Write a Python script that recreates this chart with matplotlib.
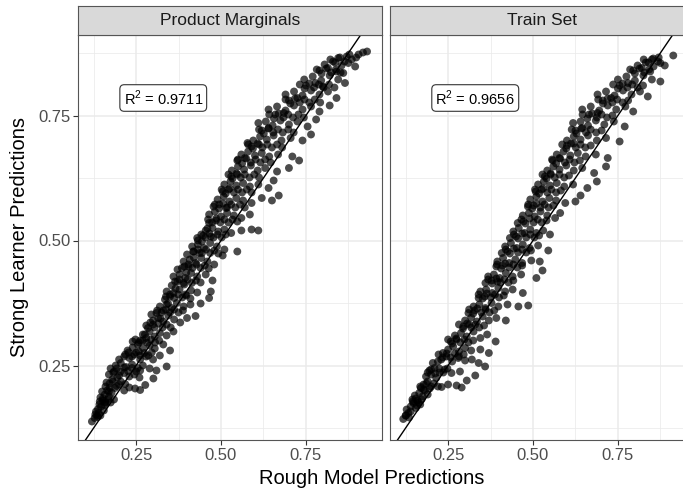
import numpy as np
import matplotlib
matplotlib.use("Agg")
import matplotlib.pyplot as plt

plt.rcParams['font.family'] = ['Liberation Sans', 'DejaVu Sans']
plt.rcParams['mathtext.fontset'] = 'custom'
plt.rcParams['mathtext.rm'] = 'Liberation Sans'

# rough model prediction vs strong learner prediction, product marginals
pm_points = np.array([
    (0.120, 0.138), (0.128, 0.145), (0.135, 0.150), (0.132, 0.158),
    (0.138, 0.163), (0.147, 0.168), (0.155, 0.160), (0.142, 0.172), (0.160, 0.175), (0.152, 0.180),
    (0.145, 0.186), (0.158, 0.192), (0.170, 0.188), (0.178, 0.196), (0.165, 0.200), (0.185, 0.182), (0.150, 0.198),
    (0.160, 0.208), (0.172, 0.214), (0.188, 0.205), (0.200, 0.212), (0.215, 0.200), (0.230, 0.206),
    (0.247, 0.204), (0.262, 0.201), (0.277, 0.211), (0.180, 0.222), (0.195, 0.226),
    (0.170, 0.232), (0.185, 0.238), (0.200, 0.230), (0.215, 0.235), (0.230, 0.228), (0.301, 0.224),
    (0.245, 0.232), (0.260, 0.226), (0.175, 0.244),
    (0.190, 0.250), (0.205, 0.255), (0.220, 0.247), (0.238, 0.252), (0.255, 0.245), (0.270, 0.250),
    (0.290, 0.244), (0.340, 0.248), (0.310, 0.240), (0.200, 0.262), (0.215, 0.268),
    (0.230, 0.265), (0.245, 0.272), (0.262, 0.262), (0.280, 0.268), (0.300, 0.262), (0.225, 0.280),
    (0.240, 0.286), (0.320, 0.270), (0.258, 0.278),
    (0.255, 0.292), (0.270, 0.285), (0.290, 0.290), (0.305, 0.284), (0.330, 0.292), (0.350, 0.280),
    (0.262, 0.300), (0.280, 0.305), (0.240, 0.298),
    (0.270, 0.312), (0.290, 0.318), (0.305, 0.308), (0.320, 0.315), (0.340, 0.310), (0.360, 0.318),
    (0.285, 0.325), (0.300, 0.332),
    (0.300, 0.340), (0.315, 0.345), (0.330, 0.338), (0.345, 0.350), (0.362, 0.342), (0.380, 0.336),
    (0.400, 0.345), (0.425, 0.349), (0.310, 0.355), (0.330, 0.360), (0.295, 0.352),
    (0.320, 0.368), (0.340, 0.372), (0.355, 0.365), (0.370, 0.375), (0.390, 0.368), (0.410, 0.372),
    (0.440, 0.374), (0.465, 0.385), (0.335, 0.382), (0.350, 0.388),
    (0.340, 0.398), (0.360, 0.395), (0.378, 0.402), (0.395, 0.392), (0.412, 0.400), (0.430, 0.396),
    (0.470, 0.398), (0.355, 0.410), (0.372, 0.418), (0.392, 0.412),
    (0.360, 0.428), (0.378, 0.432), (0.395, 0.425), (0.412, 0.435), (0.430, 0.428), (0.455, 0.432),
    (0.475, 0.420), (0.385, 0.445), (0.405, 0.448), (0.372, 0.442),
    (0.390, 0.458), (0.408, 0.462), (0.425, 0.455), (0.442, 0.465), (0.460, 0.458), (0.480, 0.452),
    (0.400, 0.472), (0.418, 0.478), (0.437, 0.475), (0.505, 0.470),
    (0.415, 0.488), (0.432, 0.492), (0.450, 0.485), (0.468, 0.495), (0.488, 0.488), (0.510, 0.482),
    (0.548, 0.478), (0.430, 0.505), (0.448, 0.510), (0.470, 0.508),
    (0.432, 0.500), (0.455, 0.520), (0.475, 0.525), (0.492, 0.518), (0.510, 0.522), (0.530, 0.515),
    (0.560, 0.520), (0.590, 0.522), (0.610, 0.520), (0.465, 0.535), (0.485, 0.540),
    (0.465, 0.552), (0.482, 0.558), (0.500, 0.548), (0.518, 0.555), (0.538, 0.550), (0.560, 0.545),
    (0.585, 0.552), (0.478, 0.568), (0.495, 0.572), (0.515, 0.565),
    (0.490, 0.582), (0.508, 0.588), (0.525, 0.578), (0.545, 0.585), (0.565, 0.580), (0.590, 0.575),
    (0.620, 0.585), (0.650, 0.580), (0.670, 0.590), (0.505, 0.598), (0.522, 0.602),
    (0.510, 0.612), (0.528, 0.618), (0.545, 0.610), (0.565, 0.615), (0.585, 0.608), (0.610, 0.612),
    (0.640, 0.605), (0.655, 0.620), (0.530, 0.628), (0.548, 0.632),
    (0.532, 0.640), (0.550, 0.648), (0.568, 0.642), (0.588, 0.650), (0.608, 0.640), (0.630, 0.645),
    (0.665, 0.638), (0.700, 0.645), (0.730, 0.660), (0.548, 0.660), (0.570, 0.665),
    (0.560, 0.672), (0.580, 0.678), (0.600, 0.670), (0.620, 0.675), (0.642, 0.668), (0.668, 0.672),
    (0.710, 0.668), (0.590, 0.688), (0.612, 0.692), (0.578, 0.695),
    (0.595, 0.700), (0.615, 0.708), (0.635, 0.702), (0.655, 0.710), (0.678, 0.700), (0.705, 0.705),
    (0.740, 0.700), (0.765, 0.712), (0.620, 0.720), (0.640, 0.725),
    (0.610, 0.735), (0.632, 0.738), (0.652, 0.730), (0.675, 0.740), (0.700, 0.732), (0.725, 0.738),
    (0.755, 0.728), (0.780, 0.742), (0.660, 0.752), (0.685, 0.755),
    (0.640, 0.762), (0.665, 0.768), (0.690, 0.760), (0.715, 0.770), (0.740, 0.762), (0.765, 0.768),
    (0.790, 0.758), (0.820, 0.770), (0.700, 0.780), (0.725, 0.785),
    (0.690, 0.792), (0.715, 0.798), (0.740, 0.790), (0.765, 0.800), (0.790, 0.792), (0.815, 0.798),
    (0.840, 0.785), (0.750, 0.810), (0.778, 0.815), (0.800, 0.808),
    (0.745, 0.822), (0.770, 0.828), (0.795, 0.820), (0.820, 0.830), (0.845, 0.822), (0.865, 0.815),
    (0.790, 0.840), (0.815, 0.845), (0.840, 0.838), (0.860, 0.835),
    (0.805, 0.852), (0.830, 0.858), (0.855, 0.850), (0.875, 0.855), (0.895, 0.848), (0.845, 0.865),
    (0.870, 0.868), (0.885, 0.862),
    (0.905, 0.872), (0.918, 0.876), (0.930, 0.878), (0.898, 0.866),
])

# the dense middle of the product marginals cloud
pm_core = np.array([
    (0.130, 0.152), (0.140, 0.155), (0.137, 0.147), (0.145, 0.150),
    (0.143, 0.178), (0.152, 0.184), (0.160, 0.177), (0.168, 0.183), (0.175, 0.176), (0.157, 0.171),
    (0.163, 0.216), (0.172, 0.205), (0.182, 0.218), (0.193, 0.209), (0.205, 0.218), (0.218, 0.213), (0.170, 0.198),
    (0.183, 0.236), (0.193, 0.244), (0.204, 0.238), (0.215, 0.246), (0.226, 0.239), (0.238, 0.245),
    (0.250, 0.238), (0.262, 0.240),
    (0.218, 0.272), (0.228, 0.276), (0.238, 0.268), (0.250, 0.276), (0.262, 0.270), (0.274, 0.275),
    (0.286, 0.270), (0.296, 0.276),
    (0.248, 0.302), (0.258, 0.296), (0.270, 0.300), (0.282, 0.296), (0.294, 0.302), (0.306, 0.296),
    (0.318, 0.300), (0.276, 0.312),
    (0.280, 0.330), (0.292, 0.336), (0.304, 0.326), (0.316, 0.334), (0.328, 0.326), (0.340, 0.332),
    (0.352, 0.326), (0.322, 0.344),
    (0.312, 0.360), (0.325, 0.356), (0.338, 0.362), (0.350, 0.356), (0.362, 0.362), (0.375, 0.356),
    (0.388, 0.360), (0.344, 0.374),
    (0.338, 0.388), (0.350, 0.392), (0.362, 0.385), (0.374, 0.392), (0.386, 0.386), (0.398, 0.390),
    (0.410, 0.384), (0.366, 0.404),
    (0.365, 0.418), (0.378, 0.422), (0.390, 0.415), (0.402, 0.422), (0.414, 0.415), (0.426, 0.420),
    (0.440, 0.416), (0.398, 0.436),
    (0.392, 0.448), (0.404, 0.452), (0.416, 0.445), (0.428, 0.452), (0.440, 0.445), (0.452, 0.450),
    (0.464, 0.444), (0.420, 0.466),
    (0.420, 0.478), (0.432, 0.482), (0.444, 0.475), (0.456, 0.482), (0.468, 0.475), (0.480, 0.480),
    (0.492, 0.474), (0.444, 0.498),
    (0.442, 0.512), (0.454, 0.506), (0.466, 0.514), (0.478, 0.506), (0.490, 0.512), (0.502, 0.506),
    (0.514, 0.512), (0.460, 0.524),
    (0.462, 0.542), (0.474, 0.536), (0.486, 0.544), (0.498, 0.536), (0.510, 0.542), (0.522, 0.536),
    (0.534, 0.542), (0.548, 0.538),
    (0.482, 0.572), (0.494, 0.564), (0.506, 0.574), (0.518, 0.566), (0.530, 0.572), (0.542, 0.566),
    (0.556, 0.572), (0.570, 0.566),
    (0.502, 0.602), (0.514, 0.594), (0.526, 0.604), (0.538, 0.596), (0.550, 0.602), (0.562, 0.596),
    (0.576, 0.602), (0.590, 0.596),
    (0.522, 0.632), (0.534, 0.624), (0.546, 0.634), (0.558, 0.626), (0.570, 0.632), (0.584, 0.626),
    (0.598, 0.632), (0.612, 0.626),
    (0.550, 0.662), (0.562, 0.654), (0.574, 0.664), (0.588, 0.656), (0.602, 0.662), (0.616, 0.656),
    (0.630, 0.662), (0.646, 0.656),
    (0.580, 0.692), (0.594, 0.684), (0.608, 0.694), (0.622, 0.686), (0.636, 0.692), (0.650, 0.686),
    (0.665, 0.692), (0.680, 0.686),
    (0.612, 0.722), (0.626, 0.714), (0.640, 0.724), (0.654, 0.716), (0.668, 0.722), (0.682, 0.716),
    (0.698, 0.722), (0.714, 0.716),
    (0.642, 0.752), (0.656, 0.744), (0.670, 0.754), (0.684, 0.746), (0.698, 0.752), (0.712, 0.746),
    (0.728, 0.752), (0.744, 0.746),
    (0.690, 0.782), (0.704, 0.774), (0.718, 0.784), (0.732, 0.776), (0.746, 0.782), (0.760, 0.776),
    (0.776, 0.782), (0.792, 0.776),
    (0.732, 0.812), (0.746, 0.804), (0.760, 0.814), (0.774, 0.806), (0.788, 0.812), (0.802, 0.806),
    (0.818, 0.812), (0.834, 0.806),
    (0.782, 0.842), (0.796, 0.834), (0.810, 0.844), (0.824, 0.836), (0.838, 0.842), (0.852, 0.836),
    (0.822, 0.862), (0.836, 0.856), (0.850, 0.866), (0.864, 0.858), (0.878, 0.872),
])

# same comparison on the train set
ts_points = np.array([
    (0.118, 0.143), (0.126, 0.150), (0.133, 0.155), (0.128, 0.162),
    (0.140, 0.168), (0.148, 0.175), (0.155, 0.165), (0.145, 0.182), (0.160, 0.180), (0.168, 0.172),
    (0.152, 0.190), (0.165, 0.195), (0.175, 0.188), (0.182, 0.200), (0.170, 0.205), (0.190, 0.192),
    (0.178, 0.212), (0.190, 0.218), (0.200, 0.208), (0.231, 0.207), (0.250, 0.212), (0.275, 0.210),
    (0.290, 0.206), (0.305, 0.220), (0.185, 0.228), (0.200, 0.232), (0.215, 0.225),
    (0.195, 0.240), (0.210, 0.245), (0.225, 0.236), (0.240, 0.242), (0.260, 0.235), (0.285, 0.238),
    (0.330, 0.230), (0.205, 0.255), (0.220, 0.258),
    (0.230, 0.262), (0.245, 0.268), (0.262, 0.258), (0.280, 0.265), (0.300, 0.260), (0.320, 0.262),
    (0.359, 0.248), (0.340, 0.255), (0.235, 0.275),
    (0.250, 0.282), (0.265, 0.288), (0.282, 0.278), (0.300, 0.285), (0.318, 0.280), (0.345, 0.282),
    (0.370, 0.275), (0.258, 0.298), (0.275, 0.302),
    (0.270, 0.310), (0.288, 0.315), (0.305, 0.308), (0.325, 0.318), (0.345, 0.305), (0.365, 0.312),
    (0.390, 0.298), (0.295, 0.328), (0.312, 0.332),
    (0.300, 0.340), (0.318, 0.346), (0.335, 0.338), (0.352, 0.348), (0.370, 0.340), (0.392, 0.345),
    (0.420, 0.340), (0.310, 0.355), (0.328, 0.360),
    (0.325, 0.368), (0.342, 0.372), (0.360, 0.365), (0.378, 0.375), (0.398, 0.368), (0.425, 0.372),
    (0.457, 0.368), (0.486, 0.370), (0.340, 0.385), (0.358, 0.388),
    (0.345, 0.398), (0.362, 0.402), (0.380, 0.395), (0.398, 0.405), (0.418, 0.398), (0.440, 0.402),
    (0.470, 0.395), (0.360, 0.415), (0.378, 0.420), (0.395, 0.418),
    (0.368, 0.428), (0.385, 0.432), (0.402, 0.425), (0.420, 0.435), (0.440, 0.428), (0.465, 0.432),
    (0.510, 0.425), (0.528, 0.440), (0.392, 0.448), (0.410, 0.450),
    (0.395, 0.458), (0.412, 0.465), (0.430, 0.455), (0.448, 0.462), (0.468, 0.455), (0.495, 0.460),
    (0.520, 0.458), (0.408, 0.475), (0.425, 0.478),
    (0.418, 0.488), (0.435, 0.495), (0.452, 0.485), (0.470, 0.492), (0.490, 0.485), (0.515, 0.490),
    (0.545, 0.480), (0.432, 0.505), (0.450, 0.508),
    (0.442, 0.518), (0.458, 0.525), (0.475, 0.515), (0.492, 0.522), (0.510, 0.515), (0.530, 0.520),
    (0.550, 0.512), (0.455, 0.535), (0.472, 0.538),
    (0.470, 0.550), (0.488, 0.555), (0.505, 0.548), (0.522, 0.558), (0.542, 0.550), (0.565, 0.545),
    (0.580, 0.555), (0.485, 0.568), (0.502, 0.570),
    (0.492, 0.582), (0.510, 0.588), (0.528, 0.578), (0.548, 0.585), (0.568, 0.580), (0.595, 0.575),
    (0.625, 0.578), (0.640, 0.590), (0.508, 0.598), (0.525, 0.602),
    (0.515, 0.612), (0.532, 0.618), (0.550, 0.610), (0.570, 0.615), (0.592, 0.608), (0.618, 0.612),
    (0.660, 0.605), (0.688, 0.618), (0.535, 0.628), (0.552, 0.632),
    (0.542, 0.640), (0.560, 0.648), (0.578, 0.642), (0.598, 0.650), (0.620, 0.640), (0.645, 0.645),
    (0.680, 0.635), (0.715, 0.648), (0.558, 0.660), (0.578, 0.665),
    (0.570, 0.672), (0.590, 0.678), (0.610, 0.670), (0.632, 0.675), (0.655, 0.668), (0.685, 0.672),
    (0.720, 0.665), (0.600, 0.690), (0.620, 0.694),
    (0.600, 0.700), (0.620, 0.708), (0.640, 0.702), (0.662, 0.710), (0.688, 0.700), (0.715, 0.705),
    (0.755, 0.698), (0.625, 0.720), (0.645, 0.725),
    (0.618, 0.735), (0.640, 0.738), (0.662, 0.730), (0.685, 0.740), (0.710, 0.732), (0.738, 0.738),
    (0.770, 0.728), (0.665, 0.752), (0.690, 0.755),
    (0.645, 0.762), (0.670, 0.768), (0.695, 0.760), (0.720, 0.770), (0.745, 0.762), (0.772, 0.768),
    (0.795, 0.758), (0.705, 0.780), (0.730, 0.785),
    (0.690, 0.792), (0.715, 0.798), (0.740, 0.790), (0.765, 0.800), (0.790, 0.792), (0.815, 0.798),
    (0.838, 0.788), (0.755, 0.810), (0.780, 0.815),
    (0.750, 0.822), (0.775, 0.828), (0.800, 0.820), (0.825, 0.830), (0.850, 0.822), (0.875, 0.818),
    (0.795, 0.840), (0.820, 0.845), (0.845, 0.838),
    (0.808, 0.850), (0.832, 0.856), (0.855, 0.848), (0.875, 0.855), (0.888, 0.850), (0.850, 0.862),
    (0.870, 0.866),
    (0.913, 0.870),
])

# the dense middle of the train set cloud
ts_core = np.array([
    (0.125, 0.150), (0.135, 0.146), (0.140, 0.158),
    (0.146, 0.178), (0.155, 0.184), (0.163, 0.176), (0.172, 0.182), (0.158, 0.170),
    (0.168, 0.208), (0.178, 0.202), (0.186, 0.214), (0.196, 0.204), (0.208, 0.214), (0.220, 0.208),
    (0.190, 0.236), (0.200, 0.242), (0.212, 0.234), (0.224, 0.244), (0.236, 0.236), (0.248, 0.244),
    (0.222, 0.272), (0.234, 0.266), (0.246, 0.274), (0.258, 0.266), (0.270, 0.274), (0.282, 0.268),
    (0.296, 0.272),
    (0.250, 0.302), (0.262, 0.294), (0.274, 0.304), (0.286, 0.296), (0.298, 0.302), (0.310, 0.296),
    (0.324, 0.300),
    (0.282, 0.332), (0.294, 0.324), (0.306, 0.334), (0.318, 0.326), (0.330, 0.332), (0.342, 0.326),
    (0.356, 0.330),
    (0.312, 0.362), (0.324, 0.354), (0.336, 0.364), (0.348, 0.356), (0.360, 0.362), (0.372, 0.356),
    (0.386, 0.360),
    (0.340, 0.392), (0.352, 0.384), (0.364, 0.394), (0.376, 0.386), (0.388, 0.392), (0.400, 0.386),
    (0.414, 0.390),
    (0.368, 0.422), (0.380, 0.414), (0.392, 0.424), (0.404, 0.416), (0.416, 0.422), (0.428, 0.416),
    (0.442, 0.420),
    (0.394, 0.452), (0.406, 0.444), (0.418, 0.454), (0.430, 0.446), (0.442, 0.452), (0.454, 0.446),
    (0.468, 0.450),
    (0.420, 0.482), (0.432, 0.474), (0.444, 0.484), (0.456, 0.476), (0.468, 0.482), (0.480, 0.476),
    (0.494, 0.480),
    (0.444, 0.512), (0.456, 0.504), (0.468, 0.514), (0.480, 0.506), (0.492, 0.512), (0.504, 0.506),
    (0.518, 0.510),
    (0.466, 0.542), (0.478, 0.534), (0.490, 0.544), (0.502, 0.536), (0.514, 0.542), (0.526, 0.536),
    (0.540, 0.540),
    (0.486, 0.572), (0.498, 0.564), (0.510, 0.574), (0.522, 0.566), (0.534, 0.572), (0.546, 0.566),
    (0.560, 0.570),
    (0.506, 0.602), (0.518, 0.594), (0.530, 0.604), (0.542, 0.596), (0.554, 0.602), (0.568, 0.596),
    (0.582, 0.600),
    (0.528, 0.632), (0.540, 0.624), (0.552, 0.634), (0.564, 0.626), (0.578, 0.632), (0.592, 0.626),
    (0.606, 0.630),
    (0.556, 0.662), (0.568, 0.654), (0.580, 0.664), (0.594, 0.656), (0.608, 0.662), (0.622, 0.656),
    (0.638, 0.660),
    (0.586, 0.692), (0.598, 0.684), (0.612, 0.694), (0.626, 0.686), (0.640, 0.692), (0.654, 0.686),
    (0.670, 0.690),
    (0.614, 0.722), (0.628, 0.714), (0.642, 0.724), (0.656, 0.716), (0.670, 0.722), (0.686, 0.716),
    (0.702, 0.720),
    (0.646, 0.752), (0.660, 0.744), (0.674, 0.754), (0.688, 0.746), (0.702, 0.752), (0.718, 0.746),
    (0.734, 0.750),
    (0.692, 0.782), (0.706, 0.774), (0.720, 0.784), (0.734, 0.776), (0.748, 0.782), (0.764, 0.776),
    (0.780, 0.780),
    (0.736, 0.812), (0.750, 0.804), (0.764, 0.814), (0.778, 0.806), (0.792, 0.812), (0.808, 0.806),
    (0.824, 0.810),
    (0.786, 0.842), (0.800, 0.834), (0.814, 0.844), (0.828, 0.836), (0.842, 0.842),
    (0.826, 0.862), (0.840, 0.856), (0.854, 0.864), (0.868, 0.858),
])

panel_titles = ["Product Marginals", "Train Set"]
r2_values = [0.9711, 0.9656]
ticks = [0.25, 0.50, 0.75]
tick_labels = ["0.25", "0.50", "0.75"]
minor_ticks = [0.125, 0.375, 0.625, 0.875]

W, H = 683, 491
fig = plt.figure(figsize=(W / 100, H / 100), dpi=100)

def px_box(x0, y0, x1, y1):
    # pixel box (top-left origin) -> figure fraction rect
    return [x0 / W, 1 - y1 / H, (x1 - x0) / W, (y1 - y0) / H]

panels = [(78, 382), (390, 694)]
clouds = [np.vstack([pm_points, pm_core]), np.vstack([ts_points, ts_core])]
for i, (pts, (x0, x1)) in enumerate(zip(clouds, panels)):
    ax = fig.add_axes(px_box(x0, 35, x1, 440))
    ax.set_xlim(0.079, 0.974)
    ax.set_ylim(0.101, 0.911)
    ax.set_xticks(ticks)
    ax.set_xticks(minor_ticks, minor=True)
    ax.set_yticks(ticks)
    ax.set_yticks(minor_ticks, minor=True)
    ax.set_xticklabels(tick_labels)
    ax.set_yticklabels(tick_labels if i == 0 else [])
    ax.grid(True, which='major', color='#EBEBEB', lw=1.1)
    ax.grid(True, which='minor', color='#EBEBEB', lw=0.55)
    ax.set_axisbelow(True)
    ax.tick_params(which='major', length=3.5, width=0.8, color='#333333',
                   labelcolor='#4D4D4D', labelsize=12, pad=2)
    ax.tick_params(which='minor', length=0)
    if i == 1:
        ax.tick_params(axis='y', length=0)
    for s in ax.spines.values():
        s.set_color('#555555')
        s.set_linewidth(0.8)

    ax.scatter(pts[:, 0], pts[:, 1], s=32, color='black', alpha=0.7,
               edgecolors='none', zorder=2)
    ax.axline((0, 0), (1, 1), color='black', lw=1.0, zorder=3)
    ax.text(0.33, 0.785, r'$\mathrm{R}^2$ = %.4f' % r2_values[i], fontsize=10.5,
            ha='center', va='center', zorder=4,
            bbox=dict(boxstyle='round,pad=0.25,rounding_size=0.3', fc='white',
                      ec='#333333', lw=0.8))

    # facet strip
    sax = fig.add_axes(px_box(x0, 6, x1, 35))
    sax.set_xticks([])
    sax.set_yticks([])
    sax.set_facecolor('#D9D9D9')
    for s in sax.spines.values():
        s.set_color('#555555')
        s.set_linewidth(0.8)
    sax.text(0.5, 0.5, panel_titles[i], transform=sax.transAxes, ha='center',
             va='center', fontsize=12.5, color='#1A1A1A')

fig.text(20 / W, 1 - 237 / H, 'Strong Learner Predictions', rotation=90,
         ha='center', va='center', fontsize=14.5)
fig.text(372 / W, 1 - 479 / H, 'Rough Model Predictions', ha='center',
         va='center', fontsize=14.5)

fig.savefig('out.png', dpi=100)
